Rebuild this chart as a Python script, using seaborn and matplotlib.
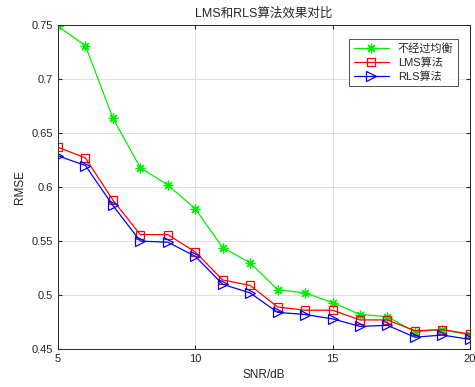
import numpy as np
import pandas as pd
import seaborn as sns
import matplotlib.pyplot as plt

snr = [5, 6, 7, 8, 9, 10, 11, 12, 13, 14, 15, 16, 17, 18, 19, 20]
no_eq = [0.749, 0.731, 0.664, 0.618, 0.602, 0.580, 0.544, 0.530, 0.505, 0.502,
         0.493, 0.482, 0.480, 0.466, 0.468, 0.463]
lms = [0.637, 0.627, 0.588, 0.556, 0.556, 0.540, 0.514, 0.509, 0.489, 0.486,
       0.486, 0.477, 0.477, 0.467, 0.468, 0.464]
rls = [0.629, 0.620, 0.583, 0.550, 0.549, 0.536, 0.510, 0.502, 0.484, 0.482,
       0.478, 0.471, 0.472, 0.461, 0.463, 0.459]
labels = ['不经过均衡', 'LMS算法', 'RLS算法']

sns.set_style('white')
plt.rcParams['font.family'] = ['Liberation Sans', 'Noto Sans CJK SC', 'DejaVu Sans']

fig = plt.figure(figsize=(4.75, 3.87), dpi=100)
ax = fig.add_axes([0.122, 0.098, 0.867, 0.837])

# asterisk marker like MATLAB '*'
styles = [('#00ee00', (8, 2, 0), 7), ('#ff0000', 's', 6), ('#0000ff', '>', 7)]
for vals, lab, (c, m, ms) in zip([no_eq, lms, rls], labels, styles):
    df = pd.DataFrame({'snr': snr, 'rmse': vals})
    sns.lineplot(data=df, x='snr', y='rmse', ax=ax, color=c, marker=m,
                 markersize=ms, markerfacecolor='none', markeredgecolor=c,
                 markeredgewidth=0.9, linewidth=0.9, label=lab)

ax.set_xlim(5, 20)
ax.set_ylim(0.45, 0.75)
ax.set_xticks([5, 10, 15, 20])
ax.set_yticks(np.arange(0.45, 0.751, 0.05))
ax.set_yticklabels(['0.45', '0.5', '0.55', '0.6', '0.65', '0.7', '0.75'])
ax.grid(True, color='#dcdcdc', linewidth=0.7)
ax.tick_params(direction='in', length=3, labelsize=8, colors='#262626',
               top=True, right=True, bottom=True, left=True)
for s in ax.spines.values():
    s.set_color('#262626')
    s.set_linewidth(0.7)
ax.set_xlabel('SNR/dB', fontsize=8.5, color='#262626')
ax.set_ylabel('RMSE', fontsize=8.5, color='#262626')
ax.set_title('LMS和RLS算法效果对比', fontsize=9, color='#262626')

leg = ax.legend(loc='upper right', fontsize=8, frameon=True, fancybox=False,
                edgecolor='#262626', borderpad=0.4, handlelength=3.2,
                labelspacing=0.3, bbox_to_anchor=(0.985, 0.975))
leg.get_frame().set_linewidth(0.7)

fig.savefig('out.png', dpi=100)
